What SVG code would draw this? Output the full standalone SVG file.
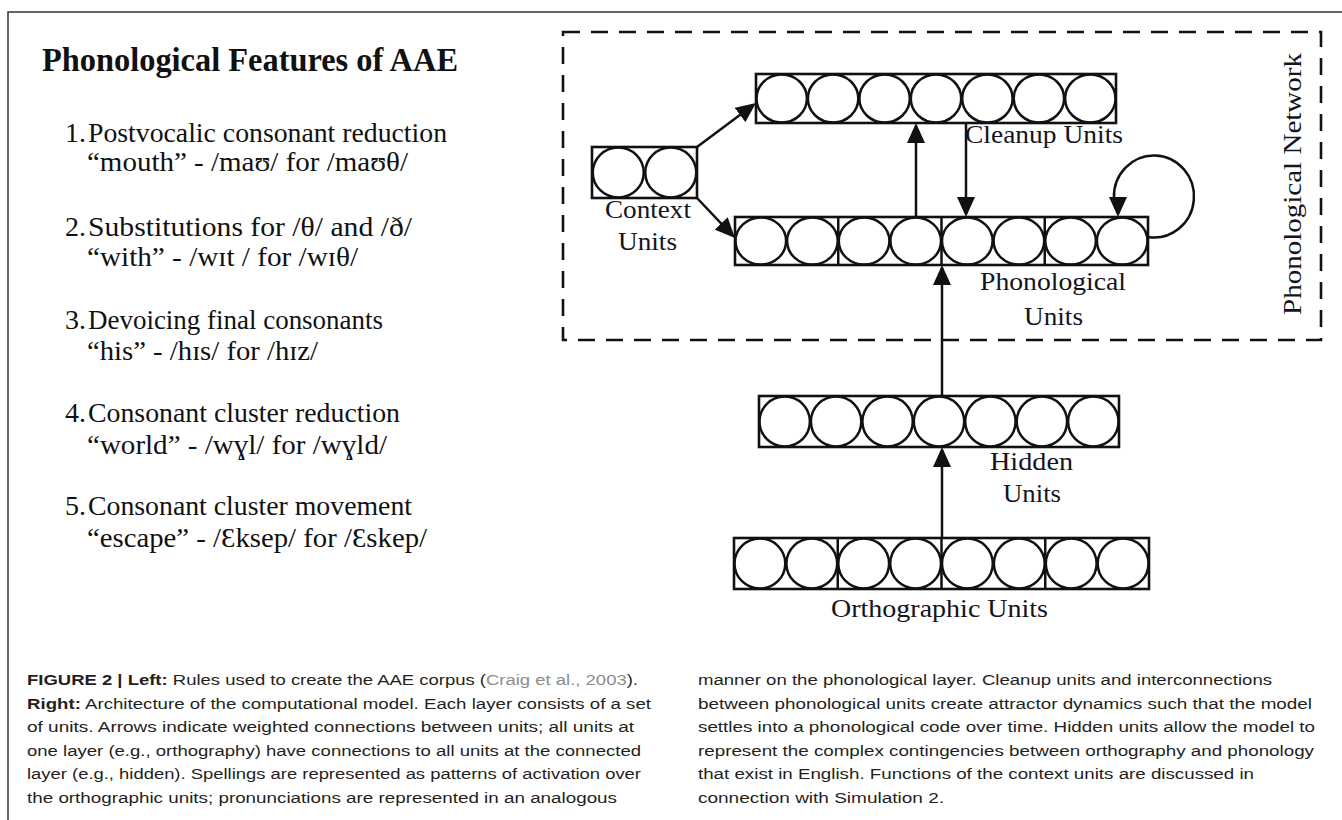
<svg xmlns="http://www.w3.org/2000/svg" width="1342" height="820" viewBox="0 0 1342 820">
<style>
.frame{stroke:#333;stroke-width:1.5;fill:none}
.net{fill:none;stroke:#111;stroke-width:2.6;stroke-dasharray:17 11}
.box{fill:#fff;stroke:#111;stroke-width:2.6}
.u{fill:none;stroke:#111;stroke-width:2.5}
.div{stroke:#111;stroke-width:2.5}
.conn{fill:none;stroke:#111;stroke-width:2.5;marker-end:url(#ah)}
.lbl{font-family:"Liberation Serif","Times New Roman",serif;font-size:26px;fill:#141420}
.list{font-family:"Liberation Serif","Times New Roman",serif;font-size:28px;fill:#111}
.title{font-family:"Liberation Serif","Times New Roman",serif;font-size:33px;font-weight:bold;fill:#111}
.cap{font-family:"Liberation Sans",Arial,sans-serif;font-size:15.5px;fill:#231f20}
.b{font-weight:bold}
.ref{fill:#8d8d8d}
</style>
<defs>
<marker id="ah" viewBox="0 0 20 18" refX="17" refY="9" markerWidth="20" markerHeight="18" markerUnits="userSpaceOnUse" orient="auto">
<path d="M0,0 L20,9 L0,18 z" fill="#111"/>
</marker>
</defs>
<rect width="1342" height="820" fill="#fff"/>
<g id="frame">
<path class="frame" d="M8,820 L8,12 L1342,12"/>
</g>

<g id="features-list">
<text class="title" x="42" y="71" textLength="416" lengthAdjust="spacingAndGlyphs">Phonological Features of AAE</text>
<text class="list" x="65" y="142">1.</text>
<text class="list" x="88" y="142" textLength="359" lengthAdjust="spacingAndGlyphs">Postvocalic consonant reduction</text>
<text class="list" x="87" y="171" textLength="321" lengthAdjust="spacingAndGlyphs">“mouth” - /maʊ/ for /maʊθ/</text>
<text class="list" x="65" y="236">2.</text>
<text class="list" x="88" y="236" textLength="324" lengthAdjust="spacingAndGlyphs">Substitutions for /θ/ and /ð/</text>
<text class="list" x="87" y="266" textLength="271" lengthAdjust="spacingAndGlyphs">“with” - /wɪt / for /wɪθ/</text>
<text class="list" x="65" y="329">3.</text>
<text class="list" x="88" y="329" textLength="295" lengthAdjust="spacingAndGlyphs">Devoicing final consonants</text>
<text class="list" x="87" y="360" textLength="231" lengthAdjust="spacingAndGlyphs">“his” - /hɪs/ for /hɪz/</text>
<text class="list" x="65" y="422">4.</text>
<text class="list" x="88" y="422" textLength="312" lengthAdjust="spacingAndGlyphs">Consonant cluster reduction</text>
<text class="list" x="87" y="454" textLength="300" lengthAdjust="spacingAndGlyphs">“world” - /wɣl/ for /wɣld/</text>
<text class="list" x="65" y="515">5.</text>
<text class="list" x="88" y="515" textLength="324" lengthAdjust="spacingAndGlyphs">Consonant cluster movement</text>
<text class="list" x="87" y="547" textLength="340" lengthAdjust="spacingAndGlyphs">“escape” - /Ɛksep/ for /Ɛskep/</text>
</g>

<g id="phonological-network">
<rect class="net" x="563" y="32" width="758" height="308"/>
<text class="lbl" x="1301" y="315" transform="rotate(-90 1301 315)" textLength="262" lengthAdjust="spacingAndGlyphs">Phonological Network</text>
</g>

<g id="cleanup-units">
<rect class="box" x="756" y="74" width="360" height="49"/>
<ellipse class="u" cx="781.7" cy="98.5" rx="25.2" ry="24"/>
<ellipse class="u" cx="833.1" cy="98.5" rx="25.2" ry="24"/>
<ellipse class="u" cx="884.6" cy="98.5" rx="25.2" ry="24"/>
<ellipse class="u" cx="936.0" cy="98.5" rx="25.2" ry="24"/>
<ellipse class="u" cx="987.4" cy="98.5" rx="25.2" ry="24"/>
<ellipse class="u" cx="1038.9" cy="98.5" rx="25.2" ry="24"/>
<ellipse class="u" cx="1090.3" cy="98.5" rx="25.2" ry="24"/>
<text class="lbl" x="965" y="143" textLength="158" lengthAdjust="spacingAndGlyphs">Cleanup Units</text>
</g>

<g id="context-units">
<rect class="box" x="592" y="147" width="105" height="51"/>
<ellipse class="u" cx="618.25" cy="172.5" rx="25.5" ry="25"/>
<ellipse class="u" cx="670.75" cy="172.5" rx="25.5" ry="25"/>
<text class="lbl" x="605" y="218" textLength="86" lengthAdjust="spacingAndGlyphs">Context</text>
<text class="lbl" x="618" y="250" textLength="59" lengthAdjust="spacingAndGlyphs">Units</text>
</g>

<g id="phonological-units">
<rect class="box" x="735" y="217" width="413" height="48"/>
<path class="div" d="M838.25,217 V265 M941.5,217 V265 M1044.75,217 V265"/>
<ellipse class="u" cx="760.8" cy="241" rx="25.3" ry="23.5"/>
<ellipse class="u" cx="812.4" cy="241" rx="25.3" ry="23.5"/>
<ellipse class="u" cx="864.1" cy="241" rx="25.3" ry="23.5"/>
<ellipse class="u" cx="915.7" cy="241" rx="25.3" ry="23.5"/>
<ellipse class="u" cx="967.3" cy="241" rx="25.3" ry="23.5"/>
<ellipse class="u" cx="1018.9" cy="241" rx="25.3" ry="23.5"/>
<ellipse class="u" cx="1070.6" cy="241" rx="25.3" ry="23.5"/>
<ellipse class="u" cx="1122.2" cy="241" rx="25.3" ry="23.5"/>
<text class="lbl" x="980" y="290" textLength="146" lengthAdjust="spacingAndGlyphs">Phonological</text>
<text class="lbl" x="1024" y="325" textLength="59" lengthAdjust="spacingAndGlyphs">Units</text>
</g>

<g id="hidden-units">
<rect class="box" x="759" y="396" width="360" height="51"/>
<ellipse class="u" cx="784.7" cy="421.5" rx="25.2" ry="25"/>
<ellipse class="u" cx="836.1" cy="421.5" rx="25.2" ry="25"/>
<ellipse class="u" cx="887.6" cy="421.5" rx="25.2" ry="25"/>
<ellipse class="u" cx="939.0" cy="421.5" rx="25.2" ry="25"/>
<ellipse class="u" cx="990.4" cy="421.5" rx="25.2" ry="25"/>
<ellipse class="u" cx="1041.9" cy="421.5" rx="25.2" ry="25"/>
<ellipse class="u" cx="1093.3" cy="421.5" rx="25.2" ry="25"/>
<text class="lbl" x="990" y="470" textLength="83" lengthAdjust="spacingAndGlyphs">Hidden</text>
<text class="lbl" x="1003" y="502" textLength="58" lengthAdjust="spacingAndGlyphs">Units</text>
</g>

<g id="orthographic-units">
<rect class="box" x="734" y="538" width="415" height="51"/>
<path class="div" d="M837.75,538 V589 M941.5,538 V589 M1045.25,538 V589"/>
<ellipse class="u" cx="759.9" cy="563.5" rx="25.4" ry="25"/>
<ellipse class="u" cx="811.8" cy="563.5" rx="25.4" ry="25"/>
<ellipse class="u" cx="863.7" cy="563.5" rx="25.4" ry="25"/>
<ellipse class="u" cx="915.6" cy="563.5" rx="25.4" ry="25"/>
<ellipse class="u" cx="967.4" cy="563.5" rx="25.4" ry="25"/>
<ellipse class="u" cx="1019.3" cy="563.5" rx="25.4" ry="25"/>
<ellipse class="u" cx="1071.2" cy="563.5" rx="25.4" ry="25"/>
<ellipse class="u" cx="1123.1" cy="563.5" rx="25.4" ry="25"/>
<text class="lbl" x="831" y="617" textLength="217" lengthAdjust="spacingAndGlyphs">Orthographic Units</text>
</g>

<g id="connectors">
<path class="conn" d="M697,147 L753.6,104.8"/>
<path class="conn" d="M697,198 L732.9,235.8"/>
<path class="conn" d="M916,217 L916,126"/>
<path class="conn" d="M966,123 L966,214"/>
<path class="conn" d="M942,396 L942,268"/>
<path class="conn" d="M942,538 L942,450"/>
<path class="conn" d="M1148,237 A40,41 0 1 0 1114,198 C1114,204 1118,206 1118,214"/>
</g>

<g id="caption">
<text class="cap" x="27" y="685" textLength="611" lengthAdjust="spacingAndGlyphs"><tspan class="b">FIGURE 2 | Left:</tspan> Rules used to create the AAE corpus (<tspan class="ref">Craig et al., 2003</tspan>).</text>
<text class="cap" x="27" y="708.5" textLength="624" lengthAdjust="spacingAndGlyphs"><tspan class="b">Right:</tspan> Architecture of the computational model. Each layer consists of a set</text>
<text class="cap" x="27" y="732" textLength="607" lengthAdjust="spacingAndGlyphs">of units. Arrows indicate weighted connections between units; all units at</text>
<text class="cap" x="27" y="755.5" textLength="614" lengthAdjust="spacingAndGlyphs">one layer (e.g., orthography) have connections to all units at the connected</text>
<text class="cap" x="27" y="779" textLength="614" lengthAdjust="spacingAndGlyphs">layer (e.g., hidden). Spellings are represented as patterns of activation over</text>
<text class="cap" x="27" y="802.5" textLength="590" lengthAdjust="spacingAndGlyphs">the orthographic units; pronunciations are represented in an analogous</text>
<text class="cap" x="698" y="685" textLength="574" lengthAdjust="spacingAndGlyphs">manner on the phonological layer. Cleanup units and interconnections</text>
<text class="cap" x="698" y="708.5" textLength="614" lengthAdjust="spacingAndGlyphs">between phonological units create attractor dynamics such that the model</text>
<text class="cap" x="698" y="732" textLength="617" lengthAdjust="spacingAndGlyphs">settles into a phonological code over time. Hidden units allow the model to</text>
<text class="cap" x="698" y="755.5" textLength="616" lengthAdjust="spacingAndGlyphs">represent the complex contingencies between orthography and phonology</text>
<text class="cap" x="698" y="779" textLength="556" lengthAdjust="spacingAndGlyphs">that exist in English. Functions of the context units are discussed in</text>
<text class="cap" x="698" y="802.5" textLength="246" lengthAdjust="spacingAndGlyphs">connection with Simulation 2.</text>
</g>
</svg>
